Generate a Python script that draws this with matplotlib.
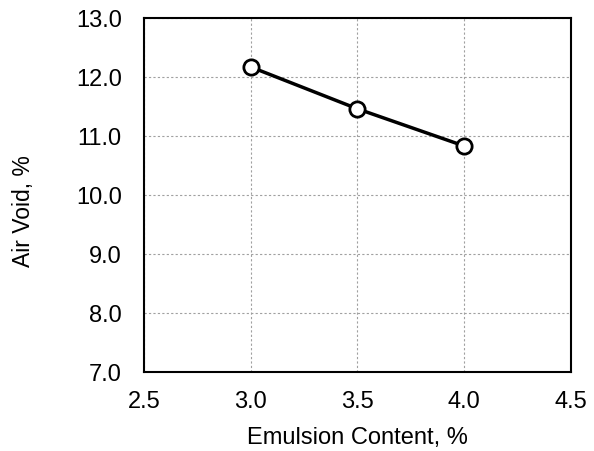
import matplotlib
matplotlib.use("Agg")
import matplotlib.pyplot as plt

plt.rcParams['font.family'] = ['Liberation Sans', 'DejaVu Sans']

emulsion = [3.0, 3.5, 4.0]
air_void = [12.17, 11.46, 10.83]
xticks = [2.5, 3.0, 3.5, 4.0, 4.5]
yticks = [7.0, 8.0, 9.0, 10.0, 11.0, 12.0, 13.0]

fig = plt.figure(figsize=(5.94, 4.52), dpi=100)
ax = fig.add_axes([0.2424, 0.1748, 0.9613 - 0.2424, 0.958 - 0.1748])
ax.plot(emulsion, air_void, color='black', linewidth=2.5, marker='o', markersize=11,
        markerfacecolor='white', markeredgecolor='black', markeredgewidth=2, zorder=3)
ax.set_xlim(2.5, 4.5)
ax.set_ylim(7.0, 13.0)
ax.set_xticks(xticks)
ax.set_yticks(yticks)
ax.set_xticklabels([f"{v:.1f}" for v in xticks])
ax.set_yticklabels([f"{v:.1f}" for v in yticks])
ax.tick_params(axis='both', length=0, labelsize=17)
ax.tick_params(axis='y', pad=16)
ax.tick_params(axis='x', pad=13)
ax.grid(True, color='#a0a0a0', linestyle=(0, (2, 2)), linewidth=0.8)
for s in ax.spines.values():
    s.set_linewidth(1.5)
    s.set_color('black')
ax.set_xlabel('Emulsion Content, %', fontsize=17, labelpad=10)
ax.set_ylabel('Air Void, %', fontsize=16.5)
ax.yaxis.set_label_coords(-0.255, 0.458)
fig.savefig('out.png', dpi=100)
